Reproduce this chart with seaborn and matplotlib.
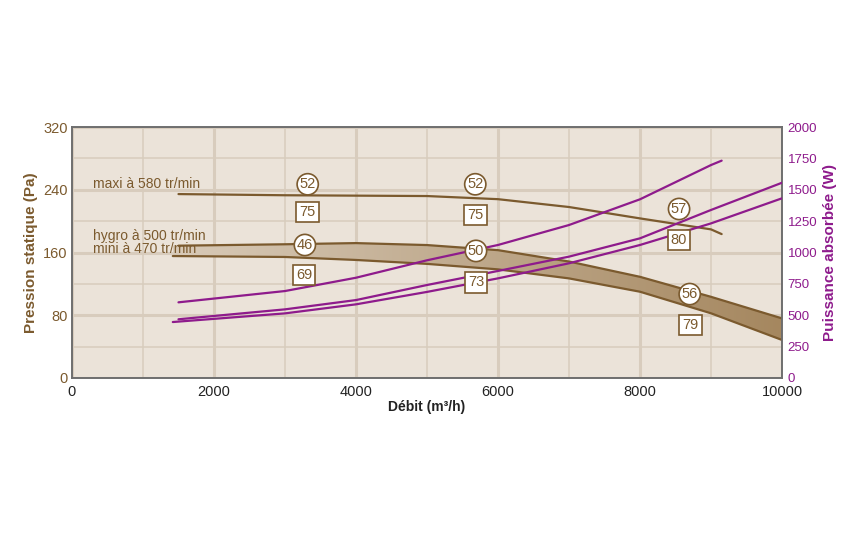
import numpy as np
import pandas as pd
import seaborn as sns
import matplotlib.pyplot as plt
from matplotlib.colors import LinearSegmentedColormap

sns.set_style("white")
plt.rcParams['font.family'] = ['Liberation Sans', 'DejaVu Sans']

BROWN = "#7b5a2e"
PURPLE = "#8e1b8c"
BG = "#ebe3d9"
GRID = "#d8ccbd"

# pressure curves (Pa) against airflow (m3/h)
maxi_x = [1500, 3000, 4000, 5000, 6000, 7000, 8000, 9000, 9150]
maxi_y = [234.5, 233, 232.5, 232, 228, 218, 203.5, 189.5, 183.5]

hygro_x = [1500, 3000, 4000, 5000, 6000, 7000, 8000, 9000, 10000]
hygro_y = [168.7, 170.5, 172, 169.5, 163, 148.5, 129, 103.5, 76]

mini_x = [1420, 3000, 4000, 5000, 6000, 7000, 8000, 9000, 10000]
mini_y = [155.5, 154.3, 150.5, 145.5, 138.5, 127, 110, 82.5, 48.5]

# absorbed power curves (W)
pw_maxi_x = [1500, 3000, 4000, 5000, 6000, 7000, 8000, 9000, 9150]
pw_maxi_y = [603, 693, 799, 938, 1060, 1219, 1424, 1697, 1732]

pw_hygro_x = [1500, 3000, 4000, 5000, 6000, 7000, 8000, 9000, 10000]
pw_hygro_y = [468, 547, 621, 741, 853, 967, 1113, 1339, 1556]

pw_mini_x = [1420, 3000, 4000, 5000, 6000, 7000, 8000, 9000, 10000]
pw_mini_y = [446, 515, 587, 686, 794, 914, 1060, 1232, 1432]

# operating point marks: circles and squares
circle_x = [3320, 5680, 3280, 5690, 8550, 8700]
circle_y = [247, 247, 169.6, 162, 215.5, 107]
circle_txt = ["52", "52", "46", "50", "57", "56"]

square_x = [3320, 5680, 3270, 5690, 8550, 8710]
square_y = [211.5, 208, 131, 122, 176, 67.5]
square_txt = ["75", "75", "69", "73", "80", "79"]

curve_labels = ["maxi à 580 tr/min", "hygro à 500 tr/min", "mini à 470 tr/min"]
curve_label_y = [247, 181, 164.5]

fig = plt.figure(figsize=(8.6, 5.38), dpi=100)
ax = fig.add_axes([0.0837, 0.2974, 0.8256, 0.4665])
ax.set_facecolor(BG)

ax.set_xlim(0, 10000)
ax.set_ylim(0, 320)
ax.set_xticks(range(0, 10001, 2000))
ax.set_xticks(range(1000, 10000, 2000), minor=True)
ax.set_yticks(range(0, 321, 80))
ax.set_yticks(range(40, 320, 80), minor=True)
ax.grid(which="major", color=GRID, lw=2.2, zorder=0)
ax.grid(which="minor", color=GRID, lw=1.1, zorder=0)
ax.set_axisbelow(True)

# band between hygro and mini, gradient fill
hx = np.array(hygro_x)
band = pd.DataFrame({"x": mini_x, "mini": mini_y})
band["hygro"] = np.interp(band["x"], hx, hygro_y, left=hygro_y[0])
poly = ax.fill_between(band["x"], band["mini"], band["hygro"], color="none", lw=0)
cmap = LinearSegmentedColormap.from_list("band", ["#d8cab8", "#a5875f"])
grad = np.linspace(0, 1, 256).reshape(1, -1)
im = ax.imshow(grad, extent=[1420, 10000, 0, 320], aspect="auto", cmap=cmap, zorder=1)
im.set_clip_path(poly.get_paths()[0], transform=ax.transData)

for xs, ys in [(maxi_x, maxi_y), (hygro_x, hygro_y), (mini_x, mini_y)]:
    sns.lineplot(x=xs, y=ys, ax=ax, color=BROWN, lw=1.6, zorder=3)

ax.set_xlabel("Débit (m³/h)", fontsize=10, fontweight="bold", color="#222222", labelpad=1)
ax.set_ylabel("Pression statique (Pa)", fontsize=11, fontweight="bold", color=BROWN, labelpad=4)
ax.tick_params(axis="y", which="both", colors=BROWN, labelsize=10.5, length=0, pad=3)
ax.tick_params(axis="x", which="both", colors="#222222", labelsize=10.5, length=0, pad=5)

for txt, yy in zip(curve_labels, curve_label_y):
    ax.text(300, yy, txt, color=BROWN, fontsize=10, va="center", ha="left", zorder=4)

ax2 = ax.twinx()
ax2.set_ylim(0, 2000)
ax2.set_yticks(range(0, 2001, 250))
for xs, ys in [(pw_maxi_x, pw_maxi_y), (pw_hygro_x, pw_hygro_y), (pw_mini_x, pw_mini_y)]:
    sns.lineplot(x=xs, y=ys, ax=ax2, color=PURPLE, lw=1.6, zorder=3)
ax2.set_ylabel("Puissance absorbée (W)", fontsize=11, fontweight="bold", color=PURPLE, labelpad=4)
ax2.tick_params(axis="y", colors=PURPLE, labelsize=9.5, length=0, pad=4)

# marks go on top of every curve, placed in pressure coordinates
for xx, yy, t in zip(circle_x, circle_y, circle_txt):
    ax2.text(xx, yy, t, transform=ax.transData, color=BROWN, fontsize=10.5,
             ha="center", va="center", zorder=6,
             bbox=dict(boxstyle="circle,pad=0.17", fc="white", ec=BROWN, lw=1.2))
for xx, yy, t in zip(square_x, square_y, square_txt):
    ax2.text(xx, yy, t, transform=ax.transData, color=BROWN, fontsize=10.5,
             ha="center", va="center", zorder=6,
             bbox=dict(boxstyle="square,pad=0.22", fc="white", ec=BROWN, lw=1.2))

for a in (ax, ax2):
    for s in a.spines.values():
        s.set_color("#6e6e6e")
        s.set_linewidth(1.2)

fig.savefig("out.png", dpi=100)
